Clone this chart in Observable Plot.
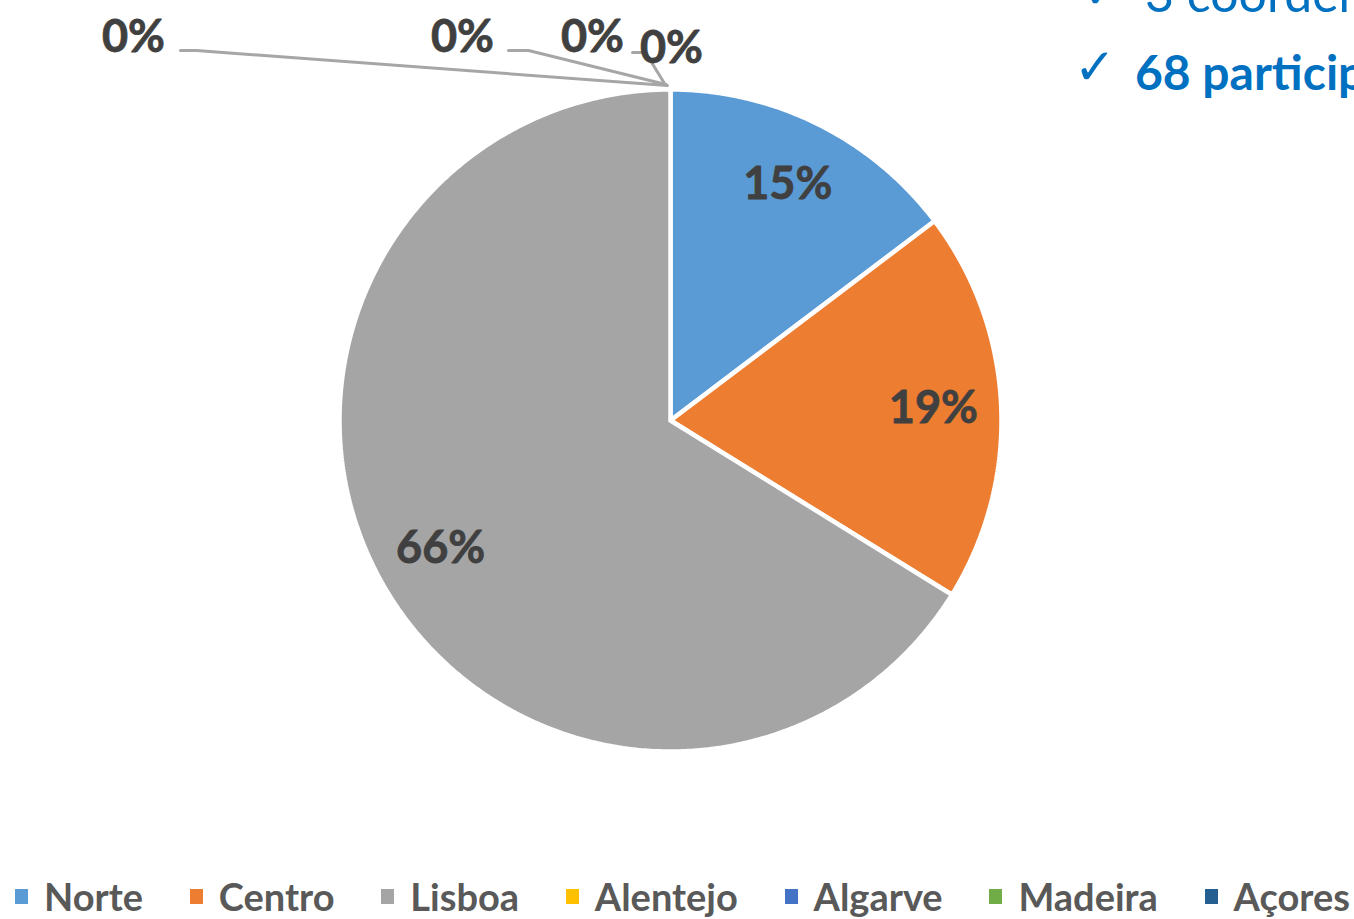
<!DOCTYPE html>
<html><head><meta charset="utf-8">
<script src="https://cdn.jsdelivr.net/npm/d3@7"></script>
<script src="https://cdn.jsdelivr.net/npm/@observablehq/plot@0.6"></script>
<style>
html,body{margin:0;padding:0;background:#fff}
body{width:1354px;height:919px;overflow:hidden;position:relative;font-family:Lato,"Open Sans",sans-serif}
#chart{position:absolute;left:0;top:0}
#notes{position:absolute;left:0;top:0}
#legend{position:absolute;left:0;top:871px;width:1354px;height:49px;display:flex;align-items:center;justify-content:space-between;box-sizing:border-box;padding:0 4px 0 15px}
.item{display:flex;align-items:center;font-weight:700;font-size:38px;color:#595959;white-space:nowrap}
.sw{width:13px;height:15px;margin-right:16px;margin-top:2px}
</style></head>
<body>
<div id="chart"></div>
<svg id="notes" width="1354" height="120"></svg>
<div id="legend"></div>
<script>
// ---- data ----
const regions = ["Norte", "Centro", "Lisboa", "Alentejo", "Algarve", "Madeira", "Açores"];
const participants = [10, 13, 45, 0, 0, 0, 0];
const colors = ["#5B9BD5", "#ED7D31", "#A5A5A5", "#FFC000", "#4472C4", "#70AD47", "#255E91"];
const notes = ["3 coordenadores", "68 participantes"];

// ---- layout ----
const W = 1354, H = 860;
const cx = 670, cy = 420, R = 331;
const total = d3.sum(participants);
const fmt = d3.format(".0%");
const arcs = d3.pie().sort(null).value(d => d)(participants);

const slicePts = [];
arcs.forEach((a, i) => {
  if (a.value <= 0) return;
  const n = Math.max(2, Math.ceil((a.endAngle - a.startAngle) / (Math.PI / 360)));
  slicePts.push({region: regions[i], x: cx, y: cy});
  for (let k = 0; k <= n; k++) {
    const t = a.startAngle + (a.endAngle - a.startAngle) * k / n;
    slicePts.push({region: regions[i], x: cx + R * Math.sin(t), y: cy - R * Math.cos(t)});
  }
  slicePts.push({region: regions[i], x: cx, y: cy});
});

// labels inside for non-zero, outside (with leader lines) for zero slices
const outsidePos = [[133, 37], [462, 37], [592, 37], [671, 48]];
const leaderStart = [[180, 50, 196, 50], [508, 50, 528, 50], [632, 52, 645, 52], null];
const labels = [];
const leaders = [];
let zi = 0;
arcs.forEach((a, i) => {
  const pct = fmt(a.value / total);
  if (a.value > 0) {
    const m = (a.startAngle + a.endAngle) / 2;
    labels.push({text: pct, x: cx + 0.795 * R * Math.sin(m), y: cy - 0.795 * R * Math.cos(m)});
  } else {
    const [lx, ly] = outsidePos[zi];
    labels.push({text: pct, x: lx, y: ly});
    const s = leaderStart[zi];
    if (s) {
      const tx = cx + (R + 4) * Math.sin(a.startAngle) - 3 - zi * 1.5;
      const ty = cy - (R + 4) * Math.cos(a.startAngle) - zi * 1;
      leaders.push({id: zi, x: s[0], y: s[1]}, {id: zi, x: s[2], y: s[3]}, {id: zi, x: tx, y: ty});
    }
    zi++;
  }
});

const plot = Plot.plot({
  width: W, height: H,
  margin: 0,
  x: {domain: [0, W], range: [0, W], axis: null},
  y: {domain: [0, H], range: [0, H], axis: null},
  color: {domain: regions, range: colors},
  style: {background: "transparent"},
  marks: [
    Plot.line(slicePts, {x: "x", y: "y", z: "region", fill: "region", stroke: "white", strokeWidth: 4.5, strokeLinejoin: "miter", curve: "linear"}),
    Plot.line(leaders, {x: "x", y: "y", z: "id", stroke: "#A6A6A6", strokeWidth: 3}),
    Plot.text(labels, {x: "x", y: "y", text: "text", fill: "#404040", stroke: "#404040", strokeWidth: 0.8, fontSize: 45, fontWeight: 700, fontFamily: "Lato, 'Open Sans', sans-serif", textAnchor: "middle", lineAnchor: "middle"})
  ]
});
document.getElementById("chart").appendChild(plot);

// slide notes (top right, partly cut off)
const ns = d3.select("#notes");
ns.append("text").attr("x", 1083).attr("y", 8).attr("font-family", "DejaVu Sans").attr("font-size", 48).attr("fill", "#0070C0").text("✓");
ns.append("text").attr("x", 1145).attr("y", 12).attr("font-family", "Lato, 'Open Sans', sans-serif").attr("font-size", 50).attr("fill", "#0070C0").text(notes[0]);
ns.append("text").attr("x", 1074).attr("y", 84).attr("font-family", "DejaVu Sans").attr("font-size", 50).attr("fill", "#0070C0").text("✓");
ns.append("text").attr("x", 1135).attr("y", 90).attr("font-family", "Lato, 'Open Sans', sans-serif").attr("font-weight", 700).attr("font-size", 48).attr("fill", "#0070C0").text(notes[1]);

// legend
const lg = d3.select("#legend");
regions.forEach((r, i) => {
  const it = lg.append("div").attr("class", "item");
  it.append("div").attr("class", "sw").style("background", colors[i]);
  it.append("span").text(r);
});
</script>
</body></html>
